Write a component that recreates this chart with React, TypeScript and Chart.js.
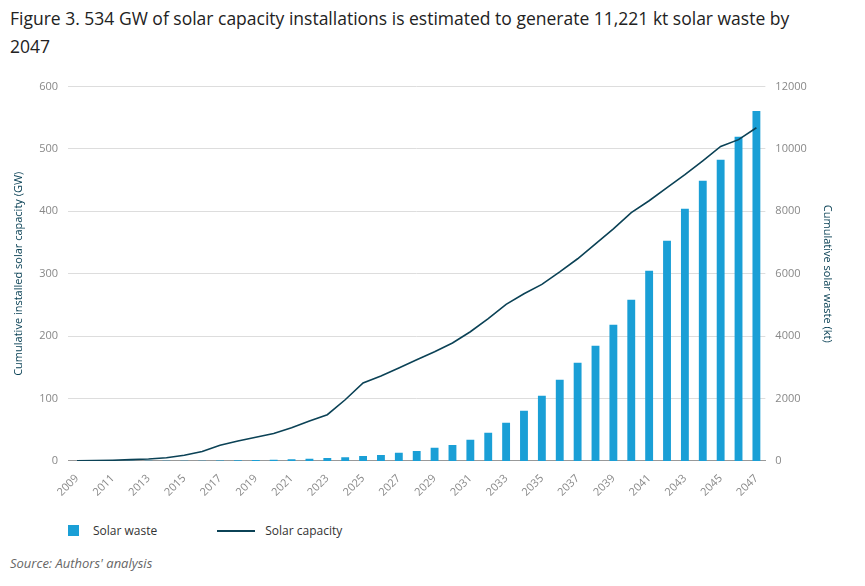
import React, { useEffect, useRef } from "react";
import { Chart, registerables } from "chart.js";
Chart.register(...registerables);

const years = Array.from({ length: 39 }, (_, i) => String(2009 + i));
const solarWaste = [0, 0, 1, 2, 3, 4, 5, 7, 10, 20, 30, 40, 50, 70, 90, 120, 160, 190, 257, 320, 417, 513, 674, 898, 1219, 1604, 2085, 2599, 3144, 3689, 4363, 5165, 6096, 7058, 8085, 8983, 9657, 10395, 11221];
const solarCapacity = [0, 0.5, 1, 2, 3, 5, 9, 15, 25, 32, 38, 44, 53, 64, 74, 98, 125, 136, 149, 162, 175, 189, 207, 228, 251, 268, 283, 303, 324, 348, 372, 398, 417, 438, 459, 481, 504, 515, 534];

const BAR = "#1a9fd6";
const LINE = "#0b4256";
const FONT = "'Open Sans', sans-serif";

export default function App() {
  const ref = useRef<HTMLCanvasElement>(null);
  useEffect(() => {
    const chart = new Chart(ref.current!, {
      data: {
        labels: years,
        datasets: [
          { type: "line", label: "Solar capacity", data: solarCapacity, yAxisID: "y", borderColor: LINE, borderWidth: 1.6, pointRadius: 0, tension: 0, order: 0 },
          { type: "bar", label: "Solar waste", data: solarWaste, yAxisID: "y1", backgroundColor: BAR, categoryPercentage: 0.8, barPercentage: 0.55, order: 1 },
        ],
      },
      options: {
        animation: false,
        responsive: true,
        maintainAspectRatio: false,
        plugins: { legend: { display: false }, tooltip: { enabled: false } },
        scales: {
          x: {
            grid: { display: false },
            border: { color: "#999" },
            ticks: {
              color: "#888", font: { family: FONT, size: 11 }, maxRotation: 45, minRotation: 45, autoSkip: false,
              callback: (_v, i) => (i % 2 === 0 ? years[i] : ""),
            },
          },
          y: {
            position: "left", min: 0, max: 600,
            ticks: { stepSize: 100, color: "#888", font: { family: FONT, size: 11 }, padding: 10 },
            grid: { color: "#ddd", drawTicks: false },
            border: { display: false },
            title: { display: true, text: "Cumulative installed solar capacity (GW)", color: LINE, font: { family: FONT, size: 11 } },
          },
          y1: {
            position: "right", min: 0, max: 12000,
            ticks: { stepSize: 2000, color: "#888", font: { family: FONT, size: 11 }, padding: 10, callback: (v) => String(v) },
            grid: { display: false, drawTicks: false },
            border: { display: false },
            title: { display: true, text: "Cumulative solar waste (kt)", color: LINE, font: { family: FONT, size: 11 } },
          },
        },
      },
    });
    return () => chart.destroy();
  }, []);

  return (
    <div style={{ fontFamily: FONT, width: 849, height: 570, position: "relative" }}>
      <div style={{ fontSize: 17.5, color: "#222", lineHeight: "28px", marginLeft: 2, marginTop: -4, width: 790 }}>
        Figure 3. 534 GW of solar capacity installations is estimated to generate 11,221 kt solar waste by 2047
      </div>
      <div style={{ position: "absolute", left: 0, top: 66, width: 830, height: 432 }}>
        <canvas ref={ref} />
      </div>
      <div style={{ position: "absolute", top: 518, left: 60, display: "flex", alignItems: "center", fontSize: 12, color: "#333" }}>
        <span style={{ display: "inline-block", width: 11, height: 11, background: BAR, marginRight: 14 }} />
        <span style={{ marginRight: 60 }}>Solar waste</span>
        <span style={{ display: "inline-block", width: 38, height: 2, background: LINE, marginRight: 10 }} />
        <span>Solar capacity</span>
      </div>
      <div style={{ position: "absolute", top: 550, left: 2, fontSize: 13, fontStyle: "italic", color: "#666" }}>
        Source: Authors' analysis
      </div>
    </div>
  );
}
